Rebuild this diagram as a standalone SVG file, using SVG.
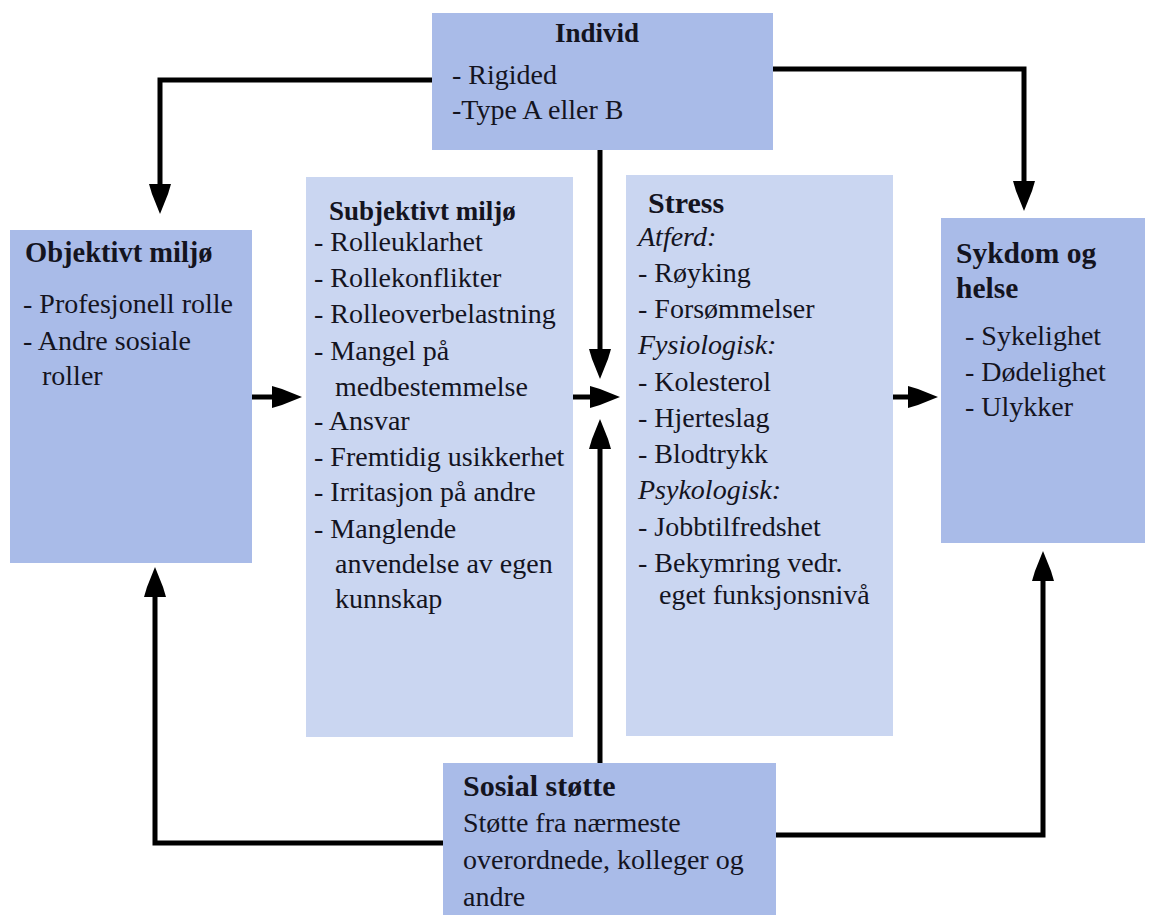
<svg xmlns="http://www.w3.org/2000/svg" width="1156" height="915" viewBox="0 0 1156 915">
<style>
.dark{fill:#a9bbe8}
.light{fill:#cad6f1}
text{font-family:"Liberation Serif","Times New Roman",serif;fill:#14141f;font-size:28px}
.b{font-weight:bold}
.i{font-style:italic}
.con{fill:none;stroke:#000;stroke-width:5;stroke-linejoin:miter;stroke-linecap:butt;marker-end:url(#ah)}
</style>
<defs>
<marker id="ah" viewBox="0 0 30 22" refX="1" refY="11" markerWidth="30" markerHeight="22" markerUnits="userSpaceOnUse" orient="auto">
<path d="M0,0 L10,3 L30,11 L10,19 L0,22 Z" fill="#000"/>
</marker>
</defs>
<rect width="1156" height="915" fill="#fff"/>

<g id="connectors">
<path class="con" d="M432,80 H160 V185"/>
<path class="con" d="M773,69 H1024 V182"/>
<path class="con" d="M600,150 V350"/>
<path class="con" d="M600,763 V448"/>
<path class="con" d="M443,843 H155 V596"/>
<path class="con" d="M776,835 H1043 V580"/>
<path class="con" d="M252,397 H273"/>
<path class="con" d="M573,397 H591"/>
<path class="con" d="M893,397 H909"/>
</g>

<g id="individ">
<rect class="dark" x="432" y="13" width="341" height="137"/>
<text class="b" x="597" y="42" text-anchor="middle" style="font-size:27px">Individ</text>
<text x="452" y="84">- Rigided</text>
<text x="452" y="119">-Type A eller B</text>
</g>

<g id="objektivt">
<rect class="dark" x="10" y="230" width="242" height="333"/>
<text class="b" x="25" y="262" style="font-size:28.5px">Objektivt miljø</text>
<text x="23" y="313">- Profesjonell rolle</text>
<text x="23" y="350">- Andre sosiale</text>
<text x="42" y="385">roller</text>
</g>

<g id="subjektivt">
<rect class="light" x="306" y="177" width="267" height="560"/>
<text class="b" x="329" y="220" style="font-size:27px">Subjektivt miljø</text>
<text x="314" y="251">- Rolleuklarhet</text>
<text x="314" y="287">- Rollekonflikter</text>
<text x="314" y="323">- Rolleoverbelastning</text>
<text x="314" y="360">- Mangel på</text>
<text x="335" y="396">medbestemmelse</text>
<text x="314" y="430">- Ansvar</text>
<text x="314" y="466">- Fremtidig usikkerhet</text>
<text x="314" y="501">- Irritasjon på andre</text>
<text x="314" y="538">- Manglende</text>
<text x="335" y="573">anvendelse av egen</text>
<text x="335" y="608">kunnskap</text>
</g>

<g id="stress">
<rect class="light" x="626" y="175" width="267" height="561"/>
<text class="b" x="648" y="213" style="font-size:30px">Stress</text>
<text class="i" x="638" y="246">Atferd:</text>
<text x="638" y="282">- Røyking</text>
<text x="638" y="318">- Forsømmelser</text>
<text class="i" x="638" y="354">Fysiologisk:</text>
<text x="638" y="391">- Kolesterol</text>
<text x="638" y="427">- Hjerteslag</text>
<text x="638" y="463">- Blodtrykk</text>
<text class="i" x="638" y="499">Psykologisk:</text>
<text x="638" y="536">- Jobbtilfredshet</text>
<text x="638" y="572">- Bekymring vedr.</text>
<text x="659" y="604">eget funksjonsnivå</text>
</g>

<g id="sykdom">
<rect class="dark" x="941" y="218" width="204" height="325"/>
<text class="b" x="956" y="263" style="font-size:29.5px">Sykdom og</text>
<text class="b" x="956" y="298" style="font-size:29.5px">helse</text>
<text x="965" y="345">- Sykelighet</text>
<text x="965" y="381">- Dødelighet</text>
<text x="965" y="416">- Ulykker</text>
</g>

<g id="sosial">
<rect class="dark" x="443" y="763" width="333" height="152"/>
<text class="b" x="463" y="796" style="font-size:30px">Sosial støtte</text>
<text x="463" y="832">Støtte fra nærmeste</text>
<text x="463" y="869">overordnede, kolleger og</text>
<text x="463" y="906">andre</text>
</g>
</svg>
